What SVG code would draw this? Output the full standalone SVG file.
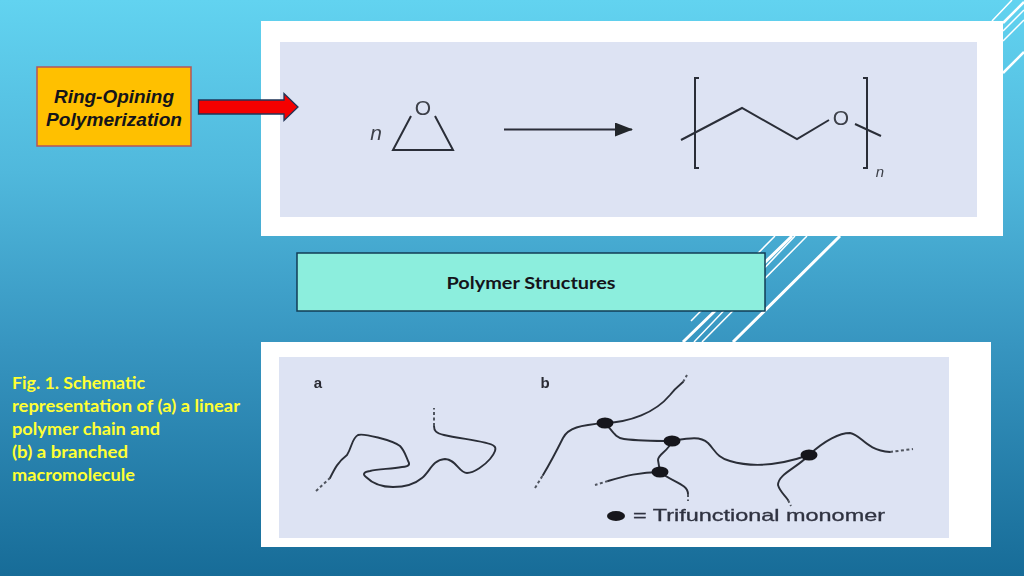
<svg xmlns="http://www.w3.org/2000/svg" width="1024" height="576" viewBox="0 0 1024 576">
<style>
.deco{stroke:#fff;fill:none}
.ink{fill:none;stroke:#2b2f38;stroke-width:2;stroke-linejoin:miter}
.chain{fill:none;stroke:#2c2f38;stroke-width:1.9;stroke-linecap:round;stroke-linejoin:round}
.tail{fill:none;stroke:#50545e;stroke-width:2;stroke-dasharray:3 2.5}
.dot{fill:#17181c}
.chem{font-family:"Liberation Sans",Arial,sans-serif;fill:#3d4048}
.cap{font-family:Lato,"Liberation Sans",sans-serif;font-weight:700;font-size:17px;fill:#ffff33}
.lbl{font-family:"Liberation Sans",Arial,sans-serif;font-weight:700;fill:#14141a}
</style>
<defs>
<linearGradient id="bg" x1="0" y1="0" x2="0" y2="1">
<stop offset="0" stop-color="#62d3f0"/><stop offset="0.3" stop-color="#50b8dc"/><stop offset="0.6" stop-color="#3795c0"/><stop offset="1" stop-color="#176c98"/>
</linearGradient>
<filter id="soft" x="-5%" y="-5%" width="110%" height="110%"><feGaussianBlur stdDeviation="0.45"/></filter>
<marker id="head" markerWidth="18" markerHeight="14" refX="17" refY="7" orient="auto" markerUnits="userSpaceOnUse"><path d="M0 0L18 7L0 14Z" fill="#24262c"/></marker>
</defs>
<rect width="1024" height="576" fill="url(#bg)"/>
<g id="decor">
<path class="deco" stroke-width="1.500" d="M1012 0L992 21M1024 10L1003 31M1024 20L1003 41"/>
<path class="deco" stroke-width="2.500" d="M1024 2L1003 23M1024 52L1003 73"/>
<path class="deco" stroke-width="1.500" d="M775 236L691 321M795 236L694 342M807 236L702 342"/>
<path class="deco" stroke-width="3" d="M792 236L683 342M840 236L733 342"/>
</g>
<g id="panel-top">
<rect x="261" y="21" width="742" height="215" fill="#fff"/>
<rect x="280" y="42" width="697" height="175" fill="#dde3f3"/>
<g filter="url(#soft)">
<path class="ink" d="M411 116L393 150H453L435 116"/>
<text class="chem" x="423" y="115" font-size="21" text-anchor="middle">O</text>
<text class="chem" x="376" y="140" font-size="21" font-style="italic" text-anchor="middle">n</text>
<path class="ink" d="M504 129.500H632" marker-end="url(#head)"/>
<path class="ink" d="M699 78H695V168H699M863 78H867V168H863"/>
<path class="ink" d="M681 140L742 108L797 139L829 120M855 124L881 136"/>
<text class="chem" x="841" y="125" font-size="21" text-anchor="middle">O</text>
<text class="chem" x="880" y="177" font-size="15" font-style="italic" text-anchor="middle">n</text>
</g>
</g>
<g id="panel-bottom">
<rect x="261" y="342" width="730" height="205" fill="#fff"/>
<rect x="279" y="357" width="670" height="181" fill="#dde3f3"/>
<g filter="url(#soft)">
<text x="318" y="388" font-family="'Liberation Sans',sans-serif" font-weight="700" font-size="15" fill="#2a2c33" text-anchor="middle">a</text>
<text x="545" y="388" font-family="'Liberation Sans',sans-serif" font-weight="700" font-size="15" fill="#2a2c33" text-anchor="middle">b</text>
<path class="chain" d="M330 478C335 468 338 462 347 455C352 447 352 438 358 435C363 433 392 440 400 446C405 451 406 457 409 463C410 466 405 467 402 467C390 469 378 469 370 471C364 472 362 474 366 477C372 483 382 487 393 487C405 487 415 484 422 478C430 472 432 460 445 459C456 459 459 473 467 473C474 473 485 465 490 459C495 453 497 448 494 446C488 441 460 439 444 435C436 433 434 431 434 426"/>
<path class="tail" d="M316 491L330 478M434 426V408"/>
<path class="chain" d="M543 475C552 460 558 448 563 438C568 428 580 425 605 423C630 422 655 413 670 395C677 386 680 385 683 382M605 423C612 430 615 438 624 439C640 441 655 441 672 441C690 438 700 436 708 443C715 450 717 458 730 461C750 467 775 467 809 455C825 440 840 433 850 433C862 435 865 450 890 452"/>
<path class="chain" d="M672 441C668 452 658 454 658 460L660 472M660 472C640 472 625 476 608 481M660 472C672 482 688 484 688 494M809 455C797 468 778 474 778 485C780 492 785 495 788 500"/>
<path class="tail" d="M535 488L543 475M683 382L687 375M890 452L913 449M608 481L595 485M688 494V501M788 500L791 506"/>
<ellipse class="dot" cx="605" cy="423" rx="8.500" ry="5.500"/>
<ellipse class="dot" cx="672" cy="441" rx="8.500" ry="5.500"/>
<ellipse class="dot" cx="660" cy="472" rx="8.500" ry="5.500"/>
<ellipse class="dot" cx="809" cy="455" rx="8.500" ry="5.500"/>
<ellipse class="dot" cx="616" cy="516" rx="9" ry="5"/>
<text x="633" y="521" font-family="'Liberation Sans',sans-serif" font-size="16.500" fill="#2f3240" stroke="#2f3240" stroke-width="0.300" textLength="252" lengthAdjust="spacingAndGlyphs">= Trifunctional monomer</text>
</g>
</g>
<g id="node-ring">
<rect x="37" y="67" width="154" height="79" fill="#ffc000" stroke="#b5545a" stroke-width="1.500"/>
<text class="lbl" x="114" y="103" font-size="18.500" font-style="italic" text-anchor="middle" textLength="120" lengthAdjust="spacingAndGlyphs">Ring-Opining</text>
<text class="lbl" x="114" y="126" font-size="18.500" font-style="italic" text-anchor="middle" textLength="136" lengthAdjust="spacingAndGlyphs">Polymerization</text>
</g>
<g id="node-structures">
<rect x="297" y="253" width="468" height="58" fill="#8ceedd" stroke="#123d55" stroke-width="1.500"/>
<text class="lbl" x="531" y="289" font-size="17.500" text-anchor="middle" textLength="169" lengthAdjust="spacingAndGlyphs" style="font-family:Lato,'Liberation Sans',sans-serif">Polymer Structures</text>
</g>
<g id="caption">
<text class="cap" x="12" y="389" textLength="133" lengthAdjust="spacingAndGlyphs">Fig. 1. Schematic</text>
<text class="cap" x="12" y="412" textLength="228" lengthAdjust="spacingAndGlyphs">representation of (a) a linear</text>
<text class="cap" x="12" y="435" textLength="148" lengthAdjust="spacingAndGlyphs">polymer chain and</text>
<text class="cap" x="12" y="458" textLength="116" lengthAdjust="spacingAndGlyphs">(b) a branched</text>
<text class="cap" x="12" y="481" textLength="123" lengthAdjust="spacingAndGlyphs">macromolecule</text>
</g>
<g id="connectors">
<path d="M198.500 100H284V93.500L298 107L284 120.500V114H198.500Z" fill="#f40000" stroke="#1f3558" stroke-width="1.300"/>
</g>
</svg>
